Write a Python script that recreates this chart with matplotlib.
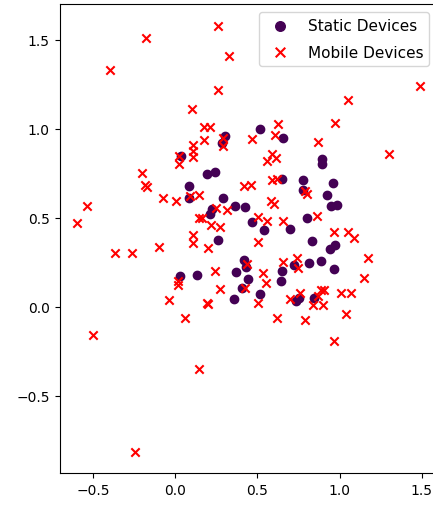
import matplotlib
matplotlib.use("Agg")
import matplotlib.pyplot as plt

# static devices (purple circles)
static_x = [0.032, 0.081, 0.081, 0.193, 0.243, 0.302, 0.284, 0.514, 0.653, 0.894,
            0.894, 0.648, 0.779, 0.961, 0.779, 0.926, 0.947, 0.985, 0.802, 0.699,
            0.831, 0.940, 0.971, 0.967, 0.886, 0.813, 0.720, 0.650, 0.645, 0.732,
            0.750, 0.845, 0.424, 0.363, 0.288, 0.221, 0.211, 0.468, 0.541, 0.261,
            0.029, 0.132, 0.371, 0.420, 0.430, 0.440, 0.404, 0.357, 0.514]
static_y = [0.845, 0.678, 0.614, 0.745, 0.758, 0.961, 0.920, 1.000, 0.948, 0.828,
            0.800, 0.718, 0.712, 0.697, 0.659, 0.631, 0.566, 0.575, 0.500, 0.436,
            0.372, 0.326, 0.350, 0.215, 0.260, 0.247, 0.235, 0.200, 0.144, 0.033,
            0.048, 0.048, 0.560, 0.566, 0.612, 0.552, 0.519, 0.477, 0.431, 0.373,
            0.174, 0.177, 0.197, 0.266, 0.222, 0.159, 0.107, 0.043, 0.075]

# mobile devices (red crosses)
mobile_x = [0.262, -0.178, 0.325, -0.397, 0.262, 1.488, 1.050, 0.103, 0.174, 0.213,
            0.626, 0.969, 0.606, 0.464, 0.869, 0.288, 0.288, 0.174, 0.108, 0.108,
            0.109, 0.022, 0.025, 1.303, 0.556, 0.586, 0.612, -0.201, -0.182, -0.174,
            0.416, 0.462, 0.586, 0.616, 0.787, 0.801, -0.073, 0.004, 0.089, 0.144,
            -0.535, -0.600, 0.582, 0.602, 0.247, 0.312, 0.144, 0.164, 0.215, 0.272,
            0.503, 0.560, 0.653, 0.863, 0.968, 1.050, 1.090, 0.109, 0.109, 0.201,
            -0.098, -0.364, -0.261, 0.503, 1.174, 1.149, 0.241, 0.018, 0.018, 0.272,
            0.191, 0.201, -0.038, 0.060, 0.434, 0.424, 0.535, 0.550, 0.505, 0.657,
            0.738, 0.748, 0.697, 0.758, 0.885, 0.905, 0.870, 0.835, 0.900, 1.007,
            1.068, 1.038, 0.967, 0.620, 0.788, -0.500, 0.144, -0.243]
mobile_y = [1.580, 1.511, 1.408, 1.328, 1.217, 1.243, 1.161, 1.114, 1.013, 1.008,
            1.028, 1.034, 0.966, 0.944, 0.925, 0.949, 0.903, 0.940, 0.912, 0.877,
            0.843, 0.845, 0.805, 0.861, 0.822, 0.858, 0.835, 0.751, 0.683, 0.674,
            0.680, 0.683, 0.712, 0.718, 0.653, 0.633, 0.612, 0.594, 0.625, 0.631,
            0.567, 0.470, 0.594, 0.580, 0.556, 0.547, 0.500, 0.500, 0.458, 0.446,
            0.503, 0.485, 0.480, 0.508, 0.423, 0.421, 0.388, 0.406, 0.360, 0.331,
            0.338, 0.300, 0.305, 0.362, 0.275, 0.163, 0.204, 0.144, 0.122, 0.101,
            0.022, 0.017, 0.040, -0.062, 0.240, 0.107, 0.191, 0.135, 0.022, 0.253,
            0.275, 0.219, 0.047, 0.079, 0.097, 0.095, 0.060, 0.013, 0.010, 0.079,
            0.079, -0.041, -0.190, -0.062, -0.071, -0.159, -0.350, -0.815]

fig = plt.figure(figsize=(4.33, 5.06), dpi=100)
ax = fig.add_axes([59.5 / 433, 31.7 / 506, (437 - 59.5) / 433, 469 / 506])

ax.scatter(static_x, static_y, color="#440154", marker="o", label="Static Devices")
ax.scatter(mobile_x, mobile_y, color="red", marker="x", label="Mobile Devices")
ax.legend(loc="upper right", fontsize=11, markerscale=1.15, labelspacing=0.75)

fig.savefig("out.png", dpi=100)
